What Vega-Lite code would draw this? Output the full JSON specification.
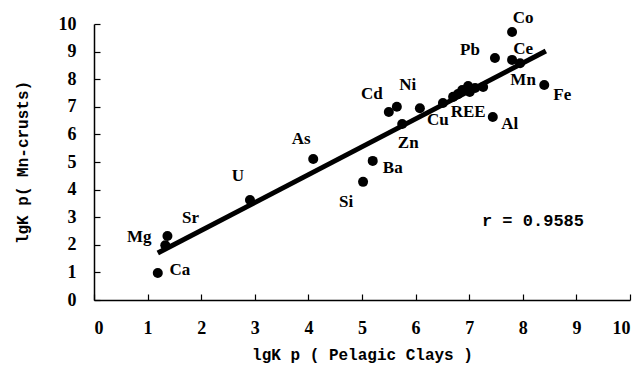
{
  "$schema": "https://vega.github.io/schema/vega-lite/v6.json",
  "width": 536,
  "height": 276,
  "autosize": "none",
  "padding": {"left": 94, "top": 24, "right": 6, "bottom": 72},
  "background": "white",
  "config": {"view": {"stroke": null}},
  "datasets": {
    "pts": [
      {"el": "Ca", "x": 1.19, "y": 0.98},
      {"el": "Mg", "x": 1.33, "y": 1.98},
      {"el": "Sr", "x": 1.37, "y": 2.32},
      {"el": "U", "x": 2.91, "y": 3.62},
      {"el": "As", "x": 4.09, "y": 5.11},
      {"el": "Ba", "x": 5.2, "y": 5.04},
      {"el": "Si", "x": 5.02, "y": 4.28},
      {"el": "Cd", "x": 5.5, "y": 6.81},
      {"el": "Ni", "x": 5.65, "y": 7.0},
      {"el": "Zn", "x": 5.75, "y": 6.38},
      {"el": "Cu", "x": 6.08, "y": 6.95},
      {"el": "REE1", "x": 6.51, "y": 7.14},
      {"el": "REE2", "x": 6.7, "y": 7.36},
      {"el": "REE3", "x": 6.79, "y": 7.46},
      {"el": "REE", "x": 6.87, "y": 7.61},
      {"el": "REE5", "x": 6.98, "y": 7.75},
      {"el": "REE6", "x": 7.01, "y": 7.54},
      {"el": "REE7", "x": 7.11, "y": 7.68},
      {"el": "REE8", "x": 7.26, "y": 7.72},
      {"el": "Al", "x": 7.44, "y": 6.63},
      {"el": "Pb", "x": 7.48, "y": 8.77},
      {"el": "Co", "x": 7.8, "y": 9.71},
      {"el": "Ce", "x": 7.8, "y": 8.7},
      {"el": "Mn", "x": 7.95, "y": 8.58},
      {"el": "Fe", "x": 8.4, "y": 7.79}
    ],
    "fit": [
      {"x": 1.19, "y": 1.7},
      {"x": 8.43, "y": 9.02}
    ],
    "note": [{"x": 8.19, "y": 2.86, "t": "r = 0.9585"}]
  },
  "encoding": {
    "x": {
      "field": "x", "type": "quantitative",
      "scale": {"domain": [0, 10], "nice": false, "zero": false},
      "axis": {
        "values": [0,1,2,3,4,5,6,7,8,9,10],
        "grid": false, "domainColor": "black", "domainWidth": 1.5,
        "tickColor": "black", "tickWidth": 1.2, "tickSize": -6,
        "labelFont": "Liberation Serif", "labelFontWeight": "bold", "labelFontSize": 18,
        "labelColor": "black", "labelPadding": 25, "labelDx": -4,
        "title": "lgK p ( Pelagic Clays )",
        "titleFont": "Liberation Mono", "titleFontWeight": "bold", "titleFontSize": 16,
        "titleColor": "black", "titlePadding": 9
      }
    },
    "y": {
      "field": "y", "type": "quantitative",
      "scale": {"domain": [0, 10], "nice": false, "zero": false},
      "axis": {
        "values": [0,1,2,3,4,5,6,7,8,9,10],
        "grid": false, "domainColor": "black", "domainWidth": 1.5,
        "tickColor": "black", "tickWidth": 1.2, "tickSize": -6,
        "labelFont": "Liberation Serif", "labelFontWeight": "bold", "labelFontSize": 18,
        "labelColor": "black", "labelPadding": 24,
        "title": "lgK p( Mn-crusts)",
        "titleFont": "Liberation Mono", "titleFontWeight": "bold", "titleFontSize": 16,
        "titleColor": "black", "titlePadding": 28
      }
    }
  },
  "layer": [
    {
      "data": {"name": "fit"},
      "mark": {"type": "line", "color": "black", "strokeWidth": 5}
    },
    {
      "data": {"name": "pts"},
      "mark": {"type": "circle", "color": "black", "opacity": 1, "size": 100}
    },
    {
      "data": {"name": "note"},
      "mark": {"type": "text", "font": "Liberation Mono", "fontWeight": "bold", "fontSize": 17, "color": "black", "baseline": "middle"},
      "encoding": {"text": {"field": "t"}}
    },
    {"data": {"name": "pts"}, "transform": [{"filter": "datum.el == 'Ca'"}], "mark": {"type": "text", "font": "Liberation Serif", "fontWeight": "bold", "fontSize": 17, "color": "black", "baseline": "middle", "dx": 22, "dy": -3}, "encoding": {"text": {"field": "el"}}},
    {"data": {"name": "pts"}, "transform": [{"filter": "datum.el == 'Mg'"}], "mark": {"type": "text", "font": "Liberation Serif", "fontWeight": "bold", "fontSize": 17, "color": "black", "baseline": "middle", "dx": -26, "dy": -8}, "encoding": {"text": {"field": "el"}}},
    {"data": {"name": "pts"}, "transform": [{"filter": "datum.el == 'Sr'"}], "mark": {"type": "text", "font": "Liberation Serif", "fontWeight": "bold", "fontSize": 17, "color": "black", "baseline": "middle", "dx": 23, "dy": -18}, "encoding": {"text": {"field": "el"}}},
    {"data": {"name": "pts"}, "transform": [{"filter": "datum.el == 'U'"}], "mark": {"type": "text", "font": "Liberation Serif", "fontWeight": "bold", "fontSize": 17, "color": "black", "baseline": "middle", "dx": -12, "dy": -24}, "encoding": {"text": {"field": "el"}}},
    {"data": {"name": "pts"}, "transform": [{"filter": "datum.el == 'As'"}], "mark": {"type": "text", "font": "Liberation Serif", "fontWeight": "bold", "fontSize": 17, "color": "black", "baseline": "middle", "dx": -12, "dy": -20}, "encoding": {"text": {"field": "el"}}},
    {"data": {"name": "pts"}, "transform": [{"filter": "datum.el == 'Ba'"}], "mark": {"type": "text", "font": "Liberation Serif", "fontWeight": "bold", "fontSize": 17, "color": "black", "baseline": "middle", "dx": 20, "dy": 7}, "encoding": {"text": {"field": "el"}}},
    {"data": {"name": "pts"}, "transform": [{"filter": "datum.el == 'Si'"}], "mark": {"type": "text", "font": "Liberation Serif", "fontWeight": "bold", "fontSize": 17, "color": "black", "baseline": "middle", "dx": -17, "dy": 20}, "encoding": {"text": {"field": "el"}}},
    {"data": {"name": "pts"}, "transform": [{"filter": "datum.el == 'Cd'"}], "mark": {"type": "text", "font": "Liberation Serif", "fontWeight": "bold", "fontSize": 17, "color": "black", "baseline": "middle", "dx": -17, "dy": -18}, "encoding": {"text": {"field": "el"}}},
    {"data": {"name": "pts"}, "transform": [{"filter": "datum.el == 'Ni'"}], "mark": {"type": "text", "font": "Liberation Serif", "fontWeight": "bold", "fontSize": 17, "color": "black", "baseline": "middle", "dx": 11, "dy": -22}, "encoding": {"text": {"field": "el"}}},
    {"data": {"name": "pts"}, "transform": [{"filter": "datum.el == 'Zn'"}], "mark": {"type": "text", "font": "Liberation Serif", "fontWeight": "bold", "fontSize": 17, "color": "black", "baseline": "middle", "dx": 6, "dy": 19}, "encoding": {"text": {"field": "el"}}},
    {"data": {"name": "pts"}, "transform": [{"filter": "datum.el == 'Cu'"}], "mark": {"type": "text", "font": "Liberation Serif", "fontWeight": "bold", "fontSize": 17, "color": "black", "baseline": "middle", "dx": 18, "dy": 12}, "encoding": {"text": {"field": "el"}}},
    {"data": {"name": "pts"}, "transform": [{"filter": "datum.el == 'REE'"}], "mark": {"type": "text", "font": "Liberation Serif", "fontWeight": "bold", "fontSize": 17, "color": "black", "baseline": "middle", "dx": 6, "dy": 22}, "encoding": {"text": {"field": "el"}}},
    {"data": {"name": "pts"}, "transform": [{"filter": "datum.el == 'Al'"}], "mark": {"type": "text", "font": "Liberation Serif", "fontWeight": "bold", "fontSize": 17, "color": "black", "baseline": "middle", "dx": 17, "dy": 7}, "encoding": {"text": {"field": "el"}}},
    {"data": {"name": "pts"}, "transform": [{"filter": "datum.el == 'Pb'"}], "mark": {"type": "text", "font": "Liberation Serif", "fontWeight": "bold", "fontSize": 17, "color": "black", "baseline": "middle", "dx": -25, "dy": -8}, "encoding": {"text": {"field": "el"}}},
    {"data": {"name": "pts"}, "transform": [{"filter": "datum.el == 'Co'"}], "mark": {"type": "text", "font": "Liberation Serif", "fontWeight": "bold", "fontSize": 17, "color": "black", "baseline": "middle", "dx": 11, "dy": -14}, "encoding": {"text": {"field": "el"}}},
    {"data": {"name": "pts"}, "transform": [{"filter": "datum.el == 'Ce'"}], "mark": {"type": "text", "font": "Liberation Serif", "fontWeight": "bold", "fontSize": 17, "color": "black", "baseline": "middle", "dx": 11, "dy": -11}, "encoding": {"text": {"field": "el"}}},
    {"data": {"name": "pts"}, "transform": [{"filter": "datum.el == 'Mn'"}], "mark": {"type": "text", "font": "Liberation Serif", "fontWeight": "bold", "fontSize": 17, "color": "black", "baseline": "middle", "dx": 3, "dy": 17}, "encoding": {"text": {"field": "el"}}},
    {"data": {"name": "pts"}, "transform": [{"filter": "datum.el == 'Fe'"}], "mark": {"type": "text", "font": "Liberation Serif", "fontWeight": "bold", "fontSize": 17, "color": "black", "baseline": "middle", "dx": 18, "dy": 10}, "encoding": {"text": {"field": "el"}}}
  ]
}
